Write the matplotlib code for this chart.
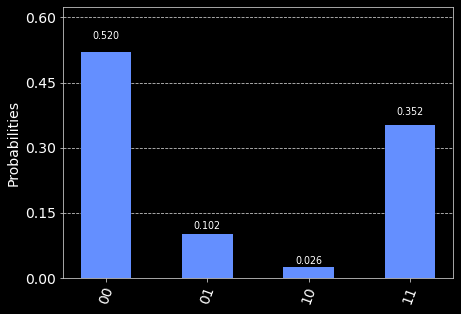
import matplotlib
matplotlib.use('Agg')
import matplotlib.pyplot as plt
import numpy as np

## measurement histogram, dark style

states = ['00', '01', '10', '11']
probs = [0.520, 0.102, 0.026, 0.352]
yticks = [0.00, 0.15, 0.30, 0.45, 0.60]

W, H = 461, 314
fig = plt.figure(figsize=(W / 72, H / 72), dpi=72, facecolor='black')
ax = fig.add_axes([63 / W, (H - 278) / H, (453 - 63) / W, (278 - 7) / H])
ax.set_facecolor('black')

x = np.arange(len(states))
bars = ax.bar(x, probs, width=0.5, color='#648fff', zorder=2)
for b, p in zip(bars, probs):
    ax.text(b.get_x() + b.get_width() / 2, 1.05 * p, f'{p:.3f}',
            ha='center', va='bottom', color='white', fontsize=9.5)

ax.set_ylim(0, max(probs) * 1.2)
ax.set_yticks(yticks)
ax.set_yticklabels([f'{t:.2f}' for t in yticks])
ax.set_xticks(x)
ax.set_xticklabels(states, rotation=70)
ax.tick_params(colors='#cccccc', labelsize=14, labelcolor='white')
ax.set_ylabel('Probabilities', fontsize=14, color='white')
ax.yaxis.grid(True, color='#cccccc', linestyle='--', lw=0.8, zorder=0)
ax.set_axisbelow(True)
for s in ax.spines.values():
    s.set_color('#cccccc')

fig.savefig('out.png', dpi=72, facecolor='black')
